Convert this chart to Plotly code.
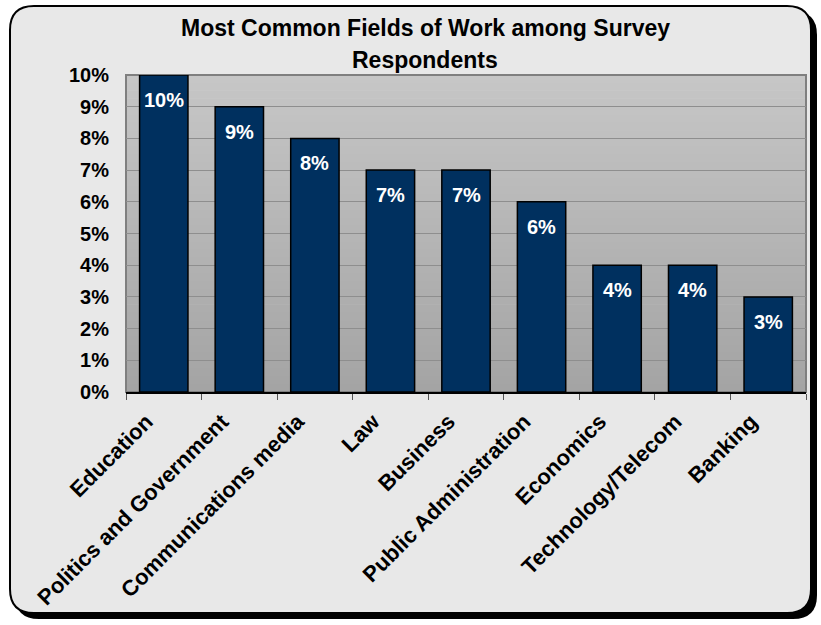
import plotly.graph_objects as go

# Survey data
categories = [
    "Education",
    "Politics and Government",
    "Communications media",
    "Law",
    "Business",
    "Public Administration",
    "Economics",
    "Technology/Telecom",
    "Banking",
]
shares = [0.10, 0.09, 0.08, 0.07, 0.07, 0.06, 0.04, 0.04, 0.03]
y_ticks = [i / 100 for i in range(0, 11)]

W, H = 821, 625
ML, MR, MT, MB = 126, 15, 75, 233
PW, PH = W - ML - MR, H - MT - MB

FONT = "Liberation Sans, Arial, sans-serif"
BAR_COLOR = "#00305f"


def px_x(x):
    return (x - ML) / PW


def px_y(y):
    return (H - MB - y) / PH


def rounded_rect(x0, y0, x1, y1, r):
    """SVG path of a rounded rectangle given in pixel units, expressed in paper units."""
    pts = [
        ("M", [(x0 + r, y0)]),
        ("L", [(x1 - r, y0)]),
        ("Q", [(x1, y0), (x1, y0 + r)]),
        ("L", [(x1, y1 - r)]),
        ("Q", [(x1, y1), (x1 - r, y1)]),
        ("L", [(x0 + r, y1)]),
        ("Q", [(x0, y1), (x0, y1 - r)]),
        ("L", [(x0, y0 + r)]),
        ("Q", [(x0, y0), (x0 + r, y0)]),
    ]
    out = []
    for cmd, ps in pts:
        out.append(cmd + " " + " ".join(f"{px_x(a):.5f},{px_y(b):.5f}" for a, b in ps))
    return " ".join(out) + " Z"


fig = go.Figure()
fig.add_trace(
    go.Bar(
        x=categories,
        y=shares,
        marker=dict(color=BAR_COLOR, line=dict(color="black", width=1.5)),
        width=0.64,
        hoverinfo="skip",
    )
)

shapes = []
# chart frame: drop shadow, then the card
shapes.append(dict(type="path", xref="paper", yref="paper", layer="below",
                   path=rounded_rect(15, 11, 817, 619, 24),
                   fillcolor="black", line=dict(width=0)))
shapes.append(dict(type="path", xref="paper", yref="paper", layer="below",
                   path=rounded_rect(10, 6, 811, 613, 24),
                   fillcolor="#e8e8e8", line=dict(color="black", width=2)))

# plot area vertical gradient
top_rgb = (0xC6, 0xC6, 0xC6)
bot_rgb = (0xA4, 0xA4, 0xA4)
n = 40
for i in range(n):
    t = i / (n - 1)
    c = tuple(round(bot_rgb[k] + (top_rgb[k] - bot_rgb[k]) * t) for k in range(3))
    shapes.append(dict(type="rect", xref="paper", yref="paper", layer="below",
                       x0=0, x1=1, y0=i / n, y1=(i + 1) / n + 0.002,
                       fillcolor="rgb(%d,%d,%d)" % c, line=dict(width=0)))
# plot frame
shapes.append(dict(type="rect", xref="paper", yref="paper", layer="below",
                   x0=0, x1=1, y0=0, y1=1, line=dict(color="#7f7f7f", width=2)))

title_font = dict(family=FONT, size=23, color="black", weight="bold")
annotations = [
    dict(text="Most Common Fields of Work among Survey", x=px_x(425), y=px_y(28),
         xref="paper", yref="paper", showarrow=False, yanchor="middle",
         font=title_font),
    dict(text="Respondents", x=px_x(425), y=px_y(60),
         xref="paper", yref="paper", showarrow=False, yanchor="middle",
         font=title_font),
]
for c, v in zip(categories, shares):
    annotations.append(dict(
        x=c, y=v, xref="x", yref="y", text="%d%%" % round(v * 100),
        showarrow=False, yanchor="top", yshift=-12,
        font=dict(family=FONT, size=20, color="white", weight="bold"),
    ))

fig.update_layout(
    width=W, height=H,
    margin=dict(l=ML, r=MR, t=MT, b=MB),
    paper_bgcolor="white",
    plot_bgcolor="rgba(0,0,0,0)",
    showlegend=False,
    shapes=shapes,
    annotations=annotations,
    bargap=0.36,
    xaxis=dict(
        tickangle=-45,
        tickfont=dict(family=FONT, size=22, color="black", weight="bold"),
        ticksuffix="\u00a0\u00a0\u00a0\u00a0",
        ticks="outside", tickson="boundaries", ticklen=6, tickcolor="#555555",
        showline=True, linecolor="black", linewidth=1.5,
        showgrid=False, ticklabelstandoff=-11, automargin=False,
    ),
    yaxis=dict(
        range=[0, 0.10],
        tickvals=y_ticks,
        tickformat=".0%",
        tickfont=dict(family=FONT, size=20, color="black", weight="bold"),
        showgrid=True, gridcolor="#8e8e8e", gridwidth=1,
        zeroline=False, showline=False, automargin=False,
        ticks="", ticklabelstandoff=16,
    ),
)

fig.write_html("out.html")
